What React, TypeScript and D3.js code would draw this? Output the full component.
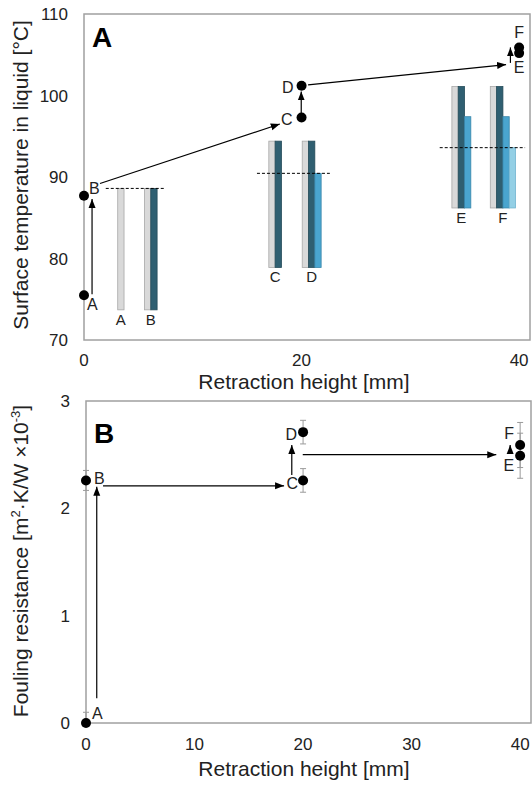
import React from "react";
import * as d3 from "d3";

// ---------- Panel A data ----------
const tempTicksY = [70, 80, 90, 100, 110];
const tempTicksX = [0, 20, 40];
const stageNames = ["A", "B", "C", "D", "E", "F"];
const tempX = [0, 0, 20, 20, 40, 40];
const tempY = [75.5, 87.7, 97.3, 101.2, 105.2, 105.9];

// schematic bars (x in mm, heights in °C)
const barGroupLeft = [3.1, 5.56, 16.99, 20.06, 33.82, 37.35];
const barGroupBottom = [73.7, 73.7, 78.9, 78.9, 86.2, 86.2];
const barGroupTops = [
  [88.6],
  [88.6, 88.6],
  [94.4, 94.4],
  [94.4, 94.4, 90.45],
  [101.1, 101.1, 97.4],
  [101.1, 101.1, 97.4, 93.6],
];
const dashY = [88.6, 90.45, 93.6];
const dashX0 = [2.0, 15.9, 32.7];
const dashX1 = [7.45, 22.6, 40.55];

// arrows panel A: [x1, y1, x2, y2] in data units
const tempArrows = [
  [0.74, 75.6, 0.74, 87.3],
  [1.47, 89.2, 18.0, 96.5],
  [19.97, 97.8, 19.97, 100.5],
  [20.6, 101.3, 38.8, 103.8],
  [39.2, 104.0, 39.2, 105.9],
];

// ---------- Panel B data ----------
const foulTicksY = [0, 1, 2, 3];
const foulTicksX = [0, 10, 20, 30, 40];
const foulX = [0, 0, 20, 20, 40, 40];
const foulY = [0, 2.26, 2.26, 2.71, 2.49, 2.59];
const foulErr = [0.1, 0.093, 0.11, 0.11, 0.21, 0.21];
const foulArrows = [
  [0.99, 0.23, 0.99, 2.2],
  [1.57, 2.21, 18.25, 2.21],
  [18.96, 2.31, 18.96, 2.59],
  [19.97, 2.5, 37.8, 2.5],
  [39.08, 2.52, 39.08, 2.59],
];

const FONT = "'Liberation Sans', Arial, Helvetica, sans-serif";
const barFill = ["#d9d9d9", "#2f5f71", "#4aa5cf", "#93cfe5"];
const barStroke = ["#a8a8a8", "#244b59", "#3886aa", "#72b4cf"];

// label offsets (px) relative to the point
const tempLabelOff: [number, number, string][] = [
  [3, 15, "start"],
  [5, -2, "start"],
  [-9, 7, "end"],
  [-8, 7, "end"],
  [0, 20, "middle"],
  [0, -9, "middle"],
];
const foulLabelOff: [number, number, string][] = [
  [6, -4, "start"],
  [8, 4, "start"],
  [-5, 9, "end"],
  [-6, 8, "end"],
  [-6, 15, "end"],
  [-6, -6, "end"],
];

export default function App() {
  const xA = d3.scaleLinear().domain([0, 41]).range([84, 530]);
  const yA = d3.scaleLinear().domain([70, 110]).range([340, 14]);
  const xB = d3.scaleLinear().domain([0, 41]).range([86, 531]);
  const yB = d3.scaleLinear().domain([0, 3]).range([723, 401]);
  const barW = xA(0.58) - xA(0);
  const frame = "#a0a0a0";

  return (
    <svg
      width={532}
      height={787}
      style={{ position: "absolute", left: 0, top: 0, background: "#fff" }}
      fontFamily={FONT}
    >
      <defs>
        <marker
          id="ah"
          markerUnits="userSpaceOnUse"
          markerWidth={10}
          markerHeight={8}
          refX={9}
          refY={4}
          orient="auto"
        >
          <path d="M0,0.5 L9,4 L0,7.5 Z" fill="#000" />
        </marker>
        <clipPath id="clipB">
          <rect x={xB(0) - 8} y={yB(3)} width={xB(41) - xB(0) + 8} height={yB(0) - yB(3)} />
        </clipPath>
      </defs>

      {/* ================= Panel A ================= */}
      <rect
        x={xA(0)}
        y={yA(110)}
        width={xA(41) - xA(0)}
        height={yA(70) - yA(110)}
        fill="none"
        stroke={frame}
        strokeWidth={1.5}
      />
      {tempTicksY.map((t) => (
        <text key={"ay" + t} x={68} y={yA(t)} dy="0.36em" textAnchor="end" fontSize={17} fill="#222">
          {t}
        </text>
      ))}
      {tempTicksX.map((t) => (
        <text key={"ax" + t} x={xA(t)} y={366} textAnchor="middle" fontSize={17} fill="#222">
          {t}
        </text>
      ))}
      <text x={304} y={389} textAnchor="middle" fontSize={21} fill="#222">
        Retraction height [mm]
      </text>
      <text
        transform={`translate(28,175) rotate(-90)`}
        textAnchor="middle"
        fontSize={21}
        fill="#222"
      >
        Surface temperature in liquid [°C]
      </text>
      <text x={92} y={47} fontSize={28} fontWeight="bold" fill="#000">
        A
      </text>

      {/* bars */}
      {barGroupTops.map((tops, g) => (
        <g key={"bg" + g}>
          {tops.map((top, i) => (
            <rect
              key={i}
              x={xA(barGroupLeft[g]) + i * barW}
              y={yA(top)}
              width={barW}
              height={yA(barGroupBottom[g]) - yA(top)}
              fill={barFill[i]}
              stroke={barStroke[i]}
              strokeWidth={0.8}
            />
          ))}
          <text
            x={xA(barGroupLeft[g]) + (tops.length * barW) / 2}
            y={yA(barGroupBottom[g]) + 15}
            textAnchor="middle"
            fontSize={15}
            fill="#222"
          >
            {stageNames[g]}
          </text>
        </g>
      ))}
      {dashY.map((v, i) => (
        <line
          key={"dash" + i}
          x1={xA(dashX0[i])}
          x2={xA(dashX1[i])}
          y1={yA(v)}
          y2={yA(v)}
          stroke="#000"
          strokeWidth={1}
          strokeDasharray="3,2"
        />
      ))}

      {tempArrows.map((a, i) => (
        <line
          key={"ta" + i}
          x1={xA(a[0])}
          y1={yA(a[1])}
          x2={xA(a[2])}
          y2={yA(a[3])}
          stroke="#000"
          strokeWidth={1.2}
          markerEnd="url(#ah)"
        />
      ))}
      {tempX.map((x, i) => (
        <circle key={"tp" + i} cx={xA(x)} cy={yA(tempY[i])} r={5} fill="#000" />
      ))}
      {tempX.map((x, i) => (
        <text
          key={"tl" + i}
          x={xA(x) + tempLabelOff[i][0]}
          y={yA(tempY[i]) + tempLabelOff[i][1]}
          textAnchor={tempLabelOff[i][2] as any}
          fontSize={16}
          fill="#222"
        >
          {stageNames[i]}
        </text>
      ))}

      {/* ================= Panel B ================= */}
      <rect
        x={xB(0)}
        y={yB(3)}
        width={xB(41) - xB(0)}
        height={yB(0) - yB(3)}
        fill="none"
        stroke={frame}
        strokeWidth={1.5}
      />
      {foulTicksY.map((t) => (
        <text key={"by" + t} x={70} y={yB(t)} dy="0.36em" textAnchor="end" fontSize={17} fill="#222">
          {t}
        </text>
      ))}
      {foulTicksX.map((t) => (
        <text key={"bx" + t} x={xB(t)} y={750} textAnchor="middle" fontSize={17} fill="#222">
          {t}
        </text>
      ))}
      <text x={304} y={776} textAnchor="middle" fontSize={21} fill="#222">
        Retraction height [mm]
      </text>
      <text
        transform={`translate(28,561) rotate(-90)`}
        textAnchor="middle"
        fontSize={21}
        fill="#222"
      >
        Fouling resistance [m
        <tspan fontSize={13} dy={-8}>2</tspan>
        <tspan dy={8}>·K/W ×10</tspan>
        <tspan fontSize={13} dy={-8}>-3</tspan>
        <tspan dy={8}>]</tspan>
      </text>
      <text x={94} y={443} fontSize={28} fontWeight="bold" fill="#000">
        B
      </text>

      <g clipPath="url(#clipB)">
        {foulX.map((x, i) => (
          <g key={"eb" + i} stroke="#9a9a9a" strokeWidth={1}>
            <line x1={xB(x)} x2={xB(x)} y1={yB(foulY[i] - foulErr[i])} y2={yB(foulY[i] + foulErr[i])} />
            <line x1={xB(x) - 3} x2={xB(x) + 3} y1={yB(foulY[i] - foulErr[i])} y2={yB(foulY[i] - foulErr[i])} />
            <line x1={xB(x) - 3} x2={xB(x) + 3} y1={yB(foulY[i] + foulErr[i])} y2={yB(foulY[i] + foulErr[i])} />
          </g>
        ))}
      </g>
      {foulArrows.map((a, i) => (
        <line
          key={"fa" + i}
          x1={xB(a[0])}
          y1={yB(a[1])}
          x2={xB(a[2])}
          y2={yB(a[3])}
          stroke="#000"
          strokeWidth={1.2}
          markerEnd="url(#ah)"
        />
      ))}
      {foulX.map((x, i) => (
        <circle key={"fp" + i} cx={xB(x)} cy={yB(foulY[i])} r={5} fill="#000" />
      ))}
      {foulX.map((x, i) => (
        <text
          key={"fl" + i}
          x={xB(x) + foulLabelOff[i][0]}
          y={yB(foulY[i]) + foulLabelOff[i][1]}
          textAnchor={foulLabelOff[i][2] as any}
          fontSize={16}
          fill="#222"
        >
          {stageNames[i]}
        </text>
      ))}
    </svg>
  );
}
